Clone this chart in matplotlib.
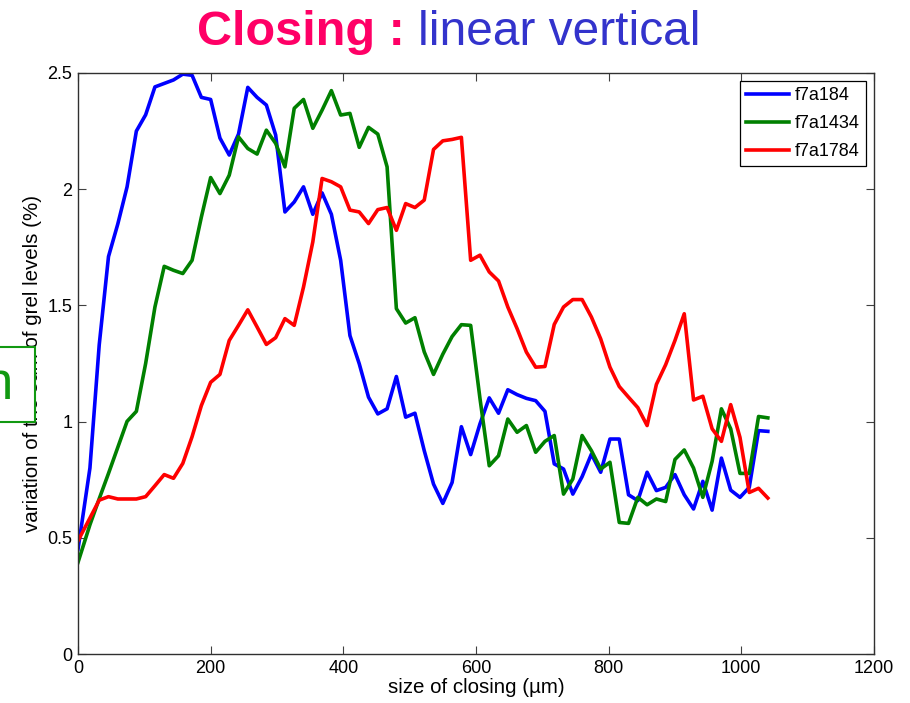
import matplotlib
matplotlib.use("Agg")
import matplotlib.pyplot as plt
from matplotlib.patches import Rectangle
from matplotlib.ticker import FormatStrFormatter

plt.rcParams["font.family"] = ["Liberation Sans", "DejaVu Sans"]

# closing sizes (um), shared by all three curves
size = [0, 18, 32, 46, 60, 74, 88, 102, 116, 130, 144, 158, 172, 186, 200,
        214, 228, 242, 256, 270, 284, 298, 312, 326, 340, 354, 368, 382, 396,
        410, 424, 438, 452, 466, 480, 494, 508, 522, 536, 550, 564, 578, 592,
        606, 620, 634, 648, 662, 676, 690, 704, 718, 732, 746, 760, 774, 788,
        802, 816, 830, 844, 858, 872, 886, 900, 914, 928, 942, 956, 970, 984,
        998, 1012, 1026, 1040]

f7a184 = [0.45, 0.80, 1.33, 1.71, 1.85, 2.01, 2.25, 2.32, 2.44, 2.455, 2.47,
          2.495, 2.49, 2.395, 2.386, 2.22, 2.147, 2.237, 2.438, 2.395, 2.362,
          2.233, 1.902, 1.945, 2.01, 1.892, 1.984, 1.892, 1.694, 1.37, 1.249,
          1.105, 1.033, 1.055, 1.194, 1.019, 1.036, 0.875, 0.731, 0.648, 0.738,
          0.978, 0.858, 0.99, 1.102, 1.036, 1.137, 1.116, 1.10, 1.09, 1.044,
          0.818, 0.796, 0.688, 0.763, 0.86, 0.782, 0.925, 0.925, 0.685, 0.66,
          0.782, 0.703, 0.717, 0.772, 0.685, 0.624, 0.743, 0.619, 0.843, 0.705,
          0.674, 0.717, 0.961, 0.958]

f7a1434 = [0.394, 0.556, 0.668, 0.777, 0.889, 1.001, 1.044, 1.25, 1.493, 1.668,
           1.651, 1.637, 1.694, 1.88, 2.05, 1.981, 2.06, 2.225, 2.175, 2.151,
           2.254, 2.197, 2.096, 2.348, 2.386, 2.262, 2.34, 2.424, 2.319, 2.326,
           2.18, 2.266, 2.237, 2.096, 1.486, 1.424, 1.447, 1.30, 1.203, 1.29,
           1.366, 1.417, 1.414, 1.10, 0.81, 0.853, 1.011, 0.954, 0.983, 0.868,
           0.915, 0.94, 0.688, 0.753, 0.94, 0.875, 0.796, 0.825, 0.566, 0.562,
           0.674, 0.642, 0.667, 0.656, 0.837, 0.878, 0.80, 0.674, 0.829, 1.055,
           0.969, 0.777, 0.777, 1.022, 1.016]

f7a1784 = [0.487, 0.585, 0.662, 0.677, 0.667, 0.667, 0.667, 0.677, 0.724, 0.772,
           0.756, 0.82, 0.935, 1.069, 1.169, 1.203, 1.349, 1.414, 1.481, 1.407,
           1.332, 1.361, 1.443, 1.414, 1.579, 1.773, 2.046, 2.032, 2.01, 1.91,
           1.902, 1.852, 1.912, 1.921, 1.823, 1.938, 1.921, 1.953, 2.171, 2.208,
           2.214, 2.223, 1.694, 1.716, 1.644, 1.605, 1.493, 1.40, 1.299, 1.234,
           1.237, 1.418, 1.493, 1.525, 1.525, 1.45, 1.356, 1.234, 1.151, 1.105,
           1.06, 0.983, 1.16, 1.245, 1.349, 1.464, 1.093, 1.109, 0.969, 0.915,
           1.073, 0.932, 0.695, 0.713, 0.671]

series = {"f7a184": (f7a184, "#0000ff"),
          "f7a1434": (f7a1434, "#008000"),
          "f7a1784": (f7a1784, "#ff0000")}

fig = plt.figure(figsize=(9.10, 7.03), dpi=100)
ax = fig.add_axes([0.0857, 0.0697, 0.8747, 0.8265])

for label, (vals, color) in series.items():
    ax.plot(size, vals, color=color, lw=2.6, label=label)

ax.set_xlim(0, 1200)
ax.set_ylim(0, 2.5)
ax.set_xticks([0, 200, 400, 600, 800, 1000, 1200])
ax.set_yticks([0, 0.5, 1, 1.5, 2, 2.5])
ax.yaxis.set_major_formatter(FormatStrFormatter("%g"))
ax.tick_params(direction="in", length=5.5, top=True, right=True,
               labelsize=13, color="#404040", pad=4)
for sp in ax.spines.values():
    sp.set_color("#303030")
    sp.set_linewidth(1.0)

ax.set_xlabel("size of closing (µm)", fontsize=14.8, labelpad=1)
ax.set_ylabel("variation of the sum of grel levels (%)", fontsize=14.8, labelpad=4)

leg = ax.legend(loc="upper right", fontsize=13, fancybox=False, framealpha=1,
                edgecolor="black", handlelength=2.4, borderpad=0.35,
                labelspacing=0.6, handletextpad=0.3, borderaxespad=0.45)
leg.get_frame().set_linewidth(0.9)

# title in two colours
fig.text(0.4445, 1 - 45 / 703, "Closing :", color="#ff0066", fontsize=35,
         fontweight="bold", ha="right", va="baseline")
fig.text(0.4595, 1 - 45 / 703, "linear vertical", color="#3333cc", fontsize=34.5,
         ha="left", va="baseline")

# green box overlapping the y label (slide overlay)
fig.patches.append(Rectangle((-0.01, 1 - 422 / 703), 0.0485, 75 / 703,
                             transform=fig.transFigure, facecolor="white",
                             edgecolor="#119911", lw=1.5, zorder=5))
fig.text(0.0143, 1 - 385 / 703, "n", color="#119911", fontsize=38,
         ha="right", va="center", zorder=6)

fig.savefig("out.png", dpi=100)
